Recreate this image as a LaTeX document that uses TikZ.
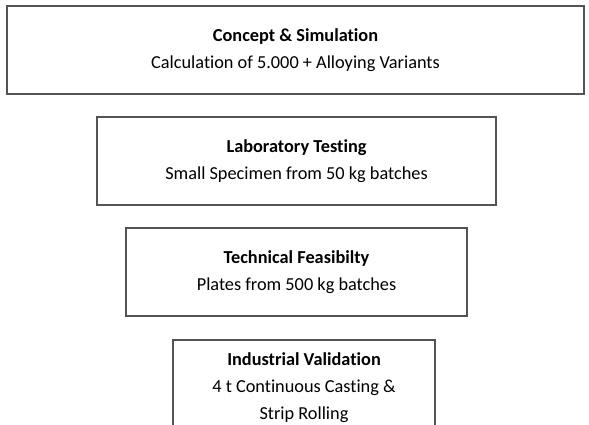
\documentclass[tikz,border=0pt]{standalone}
\usepackage{fontspec}
\setmainfont{Carlito}[Ligatures=NoCommon]
\usetikzlibrary{positioning}
\definecolor{framegray}{rgb}{0.33,0.33,0.33}

\begin{document}
\begin{tikzpicture}[x=1pt,y=1pt]
        \useasboundingbox (0,0) rectangle (589,-424);
        \clip (0,0) rectangle (589,-424);
        \tikzset{stage/.style={draw=framegray, line width=1.2pt, align=center, inner sep=0pt,
                font=\fontsize{18.3}{27}\selectfont}}
        % Stages
        \node[stage, minimum width=577, minimum height=88] (concept) at (295.5,-50) {\textbf{Concept \& Simulation}\\Calculation of 5.000 + Alloying Variants};
        \node[stage, minimum width=399, minimum height=88] (lab) at (296.5,-161) {\textbf{Laboratory Testing}\\Small Specimen from 50 kg batches};
        \node[stage, minimum width=341, minimum height=88] (feasibility) at (296.5,-272) {\textbf{Technical Feasibilty}\\Plates from 500 kg batches};
        
        % Last stage runs past the lower edge
        \node[stage, minimum width=262, minimum height=96] (industrial) at (304,-388) {\textbf{Industrial Validation}\\4 t Continuous Casting \&\\Strip Rolling};
        
\end{tikzpicture}
\end{document}
